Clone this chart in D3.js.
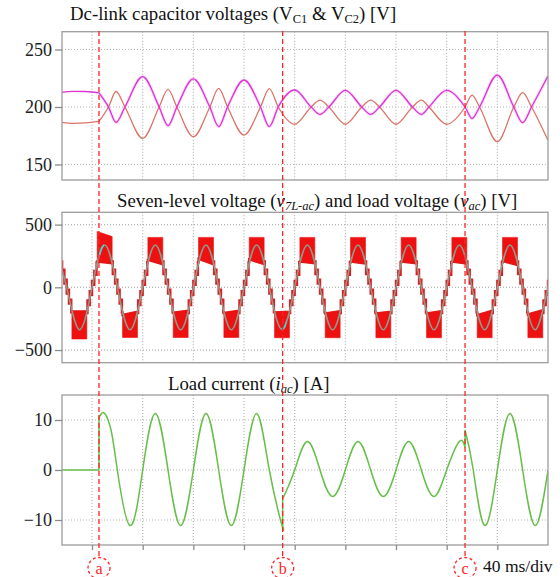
<!DOCTYPE html>
<html>
<head>
<meta charset="utf-8">
<script src="https://cdn.jsdelivr.net/npm/d3@7"></script>
<style>
body{margin:0;background:#fff}
svg text{font-family:"Liberation Serif","Times New Roman",serif}
</style>
</head>
<body>
<svg id="chart" width="560" height="577"></svg>
<script>
// time axis in ms, 40 ms/div
var timeTicks=[0,40,80,120,160,200,240,280,320];
var events=[5.5,150.5,294.5];
var eventNames=["a","b","c"];

// panel 1 : dc-link capacitor voltages [V]
var vcTicks=[150,200,250];
var vc1Before=[[-23.7,212.8],[-15,213.6],[-5,213.5],[5.5,212.3]];
var vc1After=[[5.5,212.3],[13,200],[19,186.5],[26,200],[40,226.4],[53,200],[60,183.8],[67,200],[80,224.5],[93,200],[100,183],[107,200],[120,223.5],[133,200],[140,183],[147,200],[160,214.8],[173,200],[180,193.5],[187,200],[200,214.5],[213,200],[220,193.5],[227,200],[240,214.5],[253,200],[260,193.5],[266,200],[280,214.5],[294.5,200],[300,190],[306,200],[320,227.8],[333,200],[340,186.4],[347,200],[360,227]];
var vc2Before=[[-23.7,186.7],[-15,185.8],[-5,186.2],[5.5,187.5]];
var vc2After=[[5.5,187.5],[13,200],[19,213.5],[26,200],[40,172.7],[53,200],[60,215.3],[67,200],[80,174.2],[93,200],[100,216.2],[107,200],[120,175.6],[133,200],[140,216],[147,200],[160,185],[173,200],[180,206],[187,200],[200,185],[213,200],[220,206],[227,200],[240,185],[253,200],[260,206],[266,200],[280,185],[294.5,200],[300,210.4],[306,200],[320,169.8],[333,200],[340,212.5],[347,200],[360,171]];

// panel 2 : seven-level voltage and load voltage [V]
var vTicks=[-500,0,500];
var blockPeak=[-30,-10,10,30,50,70,90,110,130,150,170,190,210,230,250,270,290,310,330,350,370];
var blockInnerL=[205,-192,205,-221,218,-203,226,-205,222,-200,205,-208,205,-208,205,-208,205,-221,210,-216,205];
var blockInnerR=[190,-190,192,-195,184,-187,184,-186,185,-195,192,-190,189,-195,192,-190,189,-187,178,-182,190];
var blockOuterL=[398,-412,445,-400,398,-400,398,-400,398,-402,398,-402,398,-402,398,-402,398,-402,398,-402,398];
var blockOuterR=[398,-412,405,-400,398,-400,398,-400,398,-402,398,-402,398,-402,398,-402,398,-402,398,-402,398];
var zeroCross=[-20,0,20,40,60,80,100,120,140,160,180,200,220,240,260,280,300,320,340,360];
var stairOffset=[-3.6,-1.8,0,1.8,3.6];
var stairHi=[215,150,70,-10,-90];
var stairLo=[105,30,-50,-130,-200];
var vacT=[-30,-20,-10,0,10,20,30,40,50,60,70,80,90,100,110,120,130,140,150,160,170,180,190,200,210,220,230,240,250,260,270,280,290,300,310,320,330,340,350,360,370];
var vacV=[338,0,-338,0,338,0,-338,0,338,0,-338,0,338,0,-338,0,338,0,-336,0,338,0,-338,0,338,0,-338,0,338,0,-338,0,338,0,-338,0,338,0,-338,0,338];
var cyanWindows=[[5.5,9.5],[149.5,153.5]];

// panel 3 : load current [A]
var iTicks=[-10,0,10];
var iac0=[[-23.7,0],[5.5,0]];
var iac1=[[5.5,10.6],[7,11.1],[10,11.3],[15,8.0],[20,0],[30,-11.1],[40,0],[50,11.3],[60,0],[70,-11.1],[80,0],[90,11.3],[100,0],[110,-11.1],[120,0],[130,11.3],[140,0],[150,-11.1],[150.5,-11]];
var iac2=[[150.5,-5.8],[160,0],[170,5.7],[180,0],[190,-5.3],[200,0],[210,5.7],[220,0],[230,-5.3],[240,0],[250,5.7],[260,0],[270,-5.3],[280,0],[290,5.7],[294.5,4.5]];
var iac3=[[294.5,8.0],[301,0],[310,-11.1],[320,0],[330,11.3],[340,0],[350,-11.1],[360,0]];

var svg=d3.select("#chart");
var x=d3.scaleLinear().domain([-23.7,360]).range([62,548]);

var panels=[
  {id:"p1",top:31.7,bottom:180,domain:[136.5,265.5],ticks:vcTicks},
  {id:"p2",top:212.3,bottom:362.7,domain:[-601,598],ticks:vTicks},
  {id:"p3",top:395,bottom:545,domain:[-15,15],ticks:iTicks}
];
panels.forEach(function(p){
  p.y=d3.scaleLinear().domain(p.domain).range([p.bottom,p.top]);
  svg.append("clipPath").attr("id","clip"+p.id).append("rect")
     .attr("x",x.range()[0]).attr("y",p.top).attr("width",x.range()[1]-x.range()[0]).attr("height",p.bottom-p.top);
  var g=svg.append("g");
  g.selectAll(".vg").data(timeTicks).enter().append("line")
     .attr("x1",function(d){return x(d)}).attr("x2",function(d){return x(d)})
     .attr("y1",p.top).attr("y2",p.bottom)
     .attr("stroke","#b4b4b4").attr("stroke-width",1.2).attr("stroke-dasharray","1,2");
  g.selectAll(".hg").data(p.ticks).enter().append("line")
     .attr("x1",x.range()[0]).attr("x2",x.range()[1])
     .attr("y1",function(d){return p.y(d)}).attr("y2",function(d){return p.y(d)})
     .attr("stroke","#b4b4b4").attr("stroke-width",1.2).attr("stroke-dasharray","1,2");
  p.plot=svg.append("g").attr("clip-path","url(#clip"+p.id+")");
});

function joined(line,segs){
  return segs.map(function(s,i){var d=line(s);return i?d.replace(/^M/,"L"):d}).join("");
}

// ---- panel 1
var p1=panels[0];
var lineVc=d3.line().x(function(d){return x(d[0])}).y(function(d){return p1.y(d[1])}).curve(d3.curveMonotoneX);
p1.plot.append("path").attr("d",joined(lineVc,[vc2Before,vc2After])).attr("fill","none")
   .attr("stroke","#dc7468").attr("stroke-width",1.3);
p1.plot.append("path").attr("d",lineVc(vc1After)).attr("fill","none")
   .attr("stroke","#e040d8").attr("stroke-width",3).attr("stroke-opacity",0.2);
p1.plot.append("path").attr("d",joined(lineVc,[vc1Before,vc1After])).attr("fill","none")
   .attr("stroke","#dd33d6").attr("stroke-width",1.3);

// ---- panel 2
var p2=panels[1];
var lineV=d3.line().x(function(d){return x(d[0])}).y(function(d){return p2.y(d[1])});
var half=5.9, edge=4.1;
var stair=[];
zeroCross.forEach(function(tc){
  var k=blockPeak.findIndex(function(b){return b>tc});
  var prevR=blockInnerR[k-1], nextL=blockInnerL[k];
  var s=prevR>0?1:-1;
  var level=prevR;
  stair.push([tc-edge,prevR]);
  stairOffset.forEach(function(o,i){
    stair.push([tc+o,level]);
    stair.push([tc+o,s*stairHi[i]]);
    stair.push([tc+o,s*stairLo[i]]);
    level=s*stairLo[i];
  });
  stair.push([tc+edge,level]);
  stair.push([tc+edge,nextL]);
});
p2.plot.append("path").attr("d",lineV(stair)).attr("fill","none")
   .attr("stroke","#de1e22").attr("stroke-width",2.4);
p2.plot.selectAll(".block").data(blockPeak).enter().append("path")
   .attr("d",function(t,i){
     return lineV([[t-half,blockInnerL[i]],[t-half,blockOuterL[i]],[t+half,blockOuterR[i]],[t+half,blockInnerR[i]]])+"Z";
   })
   .attr("fill","#ee1111").attr("stroke","#ee1111").attr("stroke-width",0.6);
var vac=vacT.map(function(t,i){return [t,vacV[i]]});
var lineVac=d3.line().x(function(d){return x(d[0])}).y(function(d){return p2.y(d[1])}).curve(d3.curveNatural);
p2.plot.append("path").attr("d",lineVac(vac)).attr("fill","none")
   .attr("stroke","#8f9b8a").attr("stroke-width",1.5);
cyanWindows.forEach(function(w,i){
  svg.append("clipPath").attr("id","cy"+i).append("rect")
     .attr("x",x(w[0])).attr("y",p2.top).attr("width",x(w[1])-x(w[0])).attr("height",p2.bottom-p2.top);
  p2.plot.append("g").attr("clip-path","url(#cy"+i+")").append("path")
     .attr("d",lineVac(vac)).attr("fill","none").attr("stroke","#44d4d0").attr("stroke-width",1.8);
});

// ---- panel 3
var p3=panels[2];
var lineI=d3.line().x(function(d){return x(d[0])}).y(function(d){return p3.y(d[1])}).curve(d3.curveNatural);
p3.plot.append("path").attr("d",joined(lineI,[iac0,iac1,iac2,iac3])).attr("fill","none")
   .attr("stroke","#66bf48").attr("stroke-width",1.5);

// ---- frames and axes
panels.forEach(function(p){
  svg.append("rect").attr("x",x.range()[0]).attr("y",p.top)
     .attr("width",x.range()[1]-x.range()[0]).attr("height",p.bottom-p.top)
     .attr("fill","none").attr("stroke","#9c9c9c").attr("stroke-width",1.3);
  var ax=svg.append("g").attr("transform","translate("+x.range()[0]+",0)")
     .call(d3.axisLeft(p.y).tickValues(p.ticks).tickSize(7).tickPadding(3));
  ax.select(".domain").remove();
  ax.selectAll(".tick line").attr("stroke","#8a8a8a").attr("stroke-width",1.3);
  ax.selectAll(".tick text").attr("font-family","'Liberation Sans',Arial,sans-serif")
     .attr("font-size",18).attr("fill","#222");
});
var xa=svg.append("g").attr("transform","translate(0,"+p3.bottom+")")
   .call(d3.axisBottom(x).tickValues(timeTicks).tickSize(5).tickFormat(""));
xa.select(".domain").remove();
xa.selectAll(".tick line").attr("stroke","#8a8a8a").attr("stroke-width",1.3);

// ---- titles
function title(x0,y0,parts){
  var t=svg.append("text").attr("x",x0).attr("y",y0).attr("font-size",18.8).attr("fill","#111");
  var down=false;
  parts.forEach(function(p){
    var ts=t.append("tspan").text(p[0]);
    if(p[1].indexOf("i")>=0) ts.attr("font-style","italic");
    if(p[1].indexOf("s")>=0){
      ts.attr("font-size",12.5);
      if(!down){ts.attr("dy",3);down=true}
    } else if(down){ts.attr("dy",-3);down=false}
  });
}
title(70,19.5,[["Dc-link capacitor voltages (V",""],["C1","s"],[" & V",""],["C2","s"],[") [V]",""]]);
title(117,207,[["Seven-level voltage (",""],["v","i"],["7L-ac","is"],[") and load voltage (",""],["v","i"],["ac","is"],[") [V]",""]]);
title(168,390,[["Load current (",""],["i","i"],["ac","is"],[") [A]",""]]);

// ---- events
var ev=svg.append("g");
ev.selectAll("line").data(events).enter().append("line")
   .attr("x1",function(d){return x(d)}).attr("x2",function(d){return x(d)})
   .attr("y1",31).attr("y2",557)
   .attr("stroke","#ff2424").attr("stroke-width",1.3).attr("stroke-dasharray","5,3");
ev.selectAll("ellipse").data(events).enter().append("ellipse")
   .attr("cx",function(d){return x(d)}).attr("cy",568).attr("rx",11).attr("ry",10.5)
   .attr("fill","#fff").attr("stroke","#ff2424").attr("stroke-width",1.3).attr("stroke-dasharray","3,2.5");
ev.selectAll("text").data(events).enter().append("text")
   .attr("x",function(d){return x(d)}).attr("y",574).attr("text-anchor","middle")
   .attr("font-size",16).attr("fill","#ff2424").text(function(d,i){return eventNames[i]});
svg.append("text").attr("x",483).attr("y",572).attr("font-size",17.5).attr("fill","#111").text("40 ms/div");
</script>
</body>
</html>
